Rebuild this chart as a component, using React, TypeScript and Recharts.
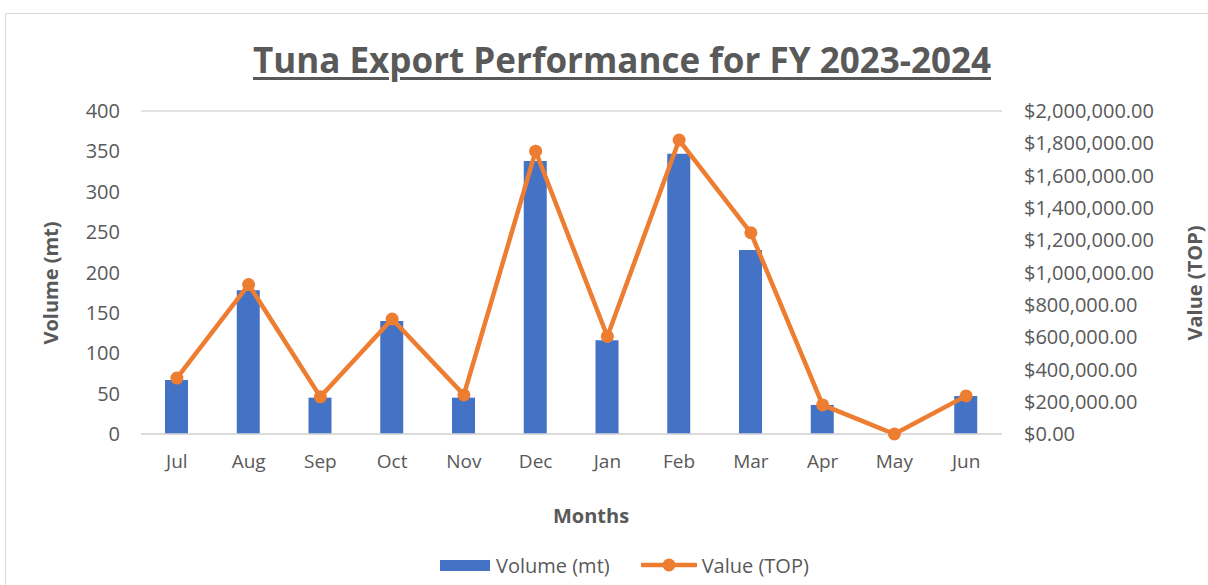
import React from 'react';
import { ComposedChart, Bar, Line, XAxis, YAxis, CartesianGrid } from 'recharts';

const months = ['Jul', 'Aug', 'Sep', 'Oct', 'Nov', 'Dec', 'Jan', 'Feb', 'Mar', 'Apr', 'May', 'Jun'];
const volumeMt = [67, 178, 45, 140, 45, 338, 116, 347, 228, 36, 0, 47];
const valueTop = [346000, 925000, 230000, 712000, 242000, 1751000, 604000, 1820000, 1246000, 180000, 0, 236000];
const leftTicks = [0, 50, 100, 150, 200, 250, 300, 350, 400];
const rightTicks = [0, 200000, 400000, 600000, 800000, 1000000, 1200000, 1400000, 1600000, 1800000, 2000000];

const data = months.map((m, i) => ({ month: m, volume: volumeMt[i], value: valueTop[i] }));

const TEXT = '#595959';
const BLUE = '#4472C4';
const ORANGE = '#ED7D31';
const FONT = '"Open Sans", sans-serif';

const fmtMoney = (v: number) =>
  '$' + v.toLocaleString('en-US', { minimumFractionDigits: 2, maximumFractionDigits: 2 });

export default function App() {
  return (
    <div
      style={{
        position: 'fixed',
        left: 0,
        top: 0,
        width: 1208,
        height: 585,
        background: '#fff',
        overflow: 'hidden',
        fontFamily: FONT,
      }}
    >
      <div
        style={{
          position: 'absolute',
          left: 5,
          top: 13,
          width: 1300,
          height: 700,
          border: '1px solid #D9D9D9',
        }}
      />
      <div
        style={{
          position: 'absolute',
          left: 0,
          width: 1244,
          top: 37,
          textAlign: 'center',
          fontSize: 35,
          fontWeight: 700,
          color: TEXT,
          textDecoration: 'underline',
          textDecorationThickness: 3,
          textUnderlineOffset: 4,
          letterSpacing: 0,
          lineHeight: '46px',
        }}
      >
        Tuna Export Performance for FY 2023-2024
      </div>
      <div style={{ position: 'absolute', left: 0, top: 0 }}>
        <ComposedChart
          width={1208}
          height={585}
          data={data}
          margin={{ top: 111, right: 0, left: 0, bottom: 121 }}
        >
          <CartesianGrid vertical={false} stroke="#D9D9D9" strokeWidth={1.5} />
          <XAxis
            dataKey="month"
            axisLine={{ stroke: '#D9D9D9', strokeWidth: 1.5 }}
            tickLine={false}
            tickSize={0}
            tickMargin={21}
            height={30}
            tick={{ fill: TEXT, fontSize: 19, fontFamily: FONT }}
          />
          <YAxis
            yAxisId="left"
            orientation="left"
            width={141}
            domain={[0, 400]}
            ticks={leftTicks}
            axisLine={false}
            tickLine={false}
            tickSize={0}
            tickMargin={21}
            tick={{ fill: TEXT, fontSize: 20, fontFamily: FONT }}
          />
          <YAxis
            yAxisId="right"
            orientation="right"
            width={206}
            domain={[0, 2000000]}
            ticks={rightTicks}
            tickFormatter={fmtMoney}
            axisLine={false}
            tickLine={false}
            tickSize={0}
            tickMargin={22}
            tick={{ fill: TEXT, fontSize: 20, fontFamily: FONT }}
          />
          <Bar yAxisId="left" dataKey="volume" fill={BLUE} barSize={23} isAnimationActive={false} />
          <Line
            yAxisId="right"
            dataKey="value"
            stroke={ORANGE}
            strokeWidth={4.5}
            dot={{ r: 6.5, fill: ORANGE, stroke: ORANGE, strokeWidth: 0 }}
            activeDot={false}
            isAnimationActive={false}
          />
        </ComposedChart>
      </div>
      <div
        style={{
          position: 'absolute',
          left: 50,
          top: 283,
          transform: 'translate(-50%, -50%) rotate(-90deg)',
          fontSize: 20,
          fontWeight: 700,
          color: TEXT,
          whiteSpace: 'nowrap',
        }}
      >
        Volume (mt)
      </div>
      <div
        style={{
          position: 'absolute',
          left: 1195,
          top: 283,
          transform: 'translate(-50%, -50%) rotate(-90deg)',
          fontSize: 20,
          fontWeight: 700,
          color: TEXT,
          whiteSpace: 'nowrap',
          lineHeight: '24px',
        }}
      >
        Value (TOP)
      </div>
      <div
        style={{
          position: 'absolute',
          left: 591,
          top: 515,
          transform: 'translate(-50%, -50%)',
          fontSize: 20,
          fontWeight: 700,
          color: TEXT,
          whiteSpace: 'nowrap',
        }}
      >
        Months
      </div>
      <div
        style={{
          position: 'absolute',
          left: 440,
          top: 553,
          height: 24,
          display: 'flex',
          alignItems: 'center',
          fontSize: 20,
          color: TEXT,
          whiteSpace: 'nowrap',
        }}
      >
        <span style={{ display: 'inline-block', width: 50, height: 11, background: BLUE, marginRight: 6 }} />
        <span>Volume (mt)</span>
        <svg width={56} height={24} style={{ marginLeft: 31, marginRight: 5 }}>
          <line x1={1} y1={12} x2={55} y2={12} stroke={ORANGE} strokeWidth={4.5} strokeLinecap="round" />
          <circle cx={28} cy={12} r={6.5} fill={ORANGE} />
        </svg>
        <span>Value (TOP)</span>
      </div>
    </div>
  );
}
